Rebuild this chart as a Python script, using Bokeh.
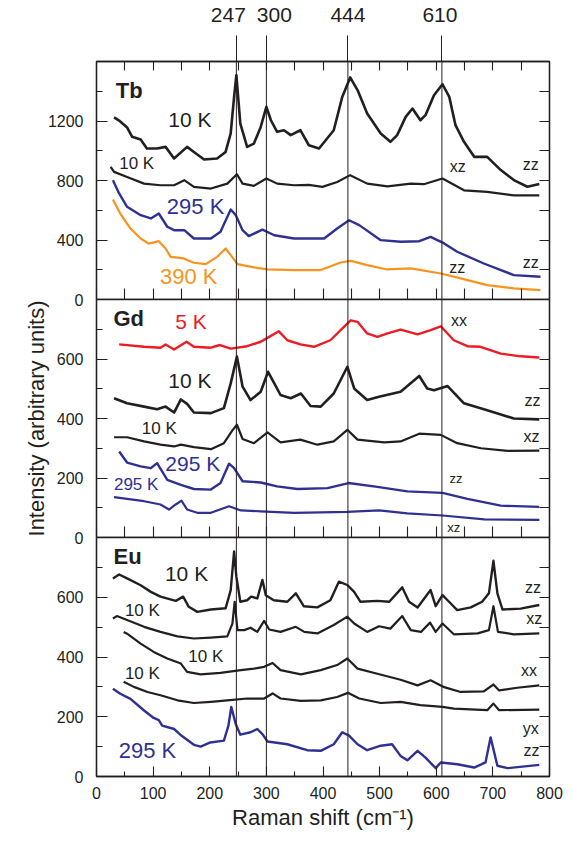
from bokeh.core.properties import value
from bokeh.embed import file_html
from bokeh.layouts import column
from bokeh.models import ColumnDataSource, FixedTicker, LinearAxis, Range1d, Span, Title
from bokeh.plotting import figure
from bokeh.resources import INLINE

# ---------------------------------------------------------------- data
# Raman shifts marked by vertical lines through all panels (cm^-1)
markers = [247, 300, 444, 610]

# Tb panel
tb_10k_zz_x = [31, 40, 54, 63, 78, 89, 107, 122, 137, 160, 172, 190, 213, 228, 237, 243, 247, 254, 266, 278,
               290, 300, 308, 319, 331, 343, 360, 375, 393, 419, 434, 448, 461, 478, 502, 519, 531, 546, 558,
               572, 581, 596, 611, 623, 634, 649, 667, 690, 714, 737, 761, 782]
tb_10k_zz_y = [1224, 1203, 1157, 1094, 1076, 1015, 1015, 1026, 948, 1026, 992, 941, 948, 992, 1117, 1362, 1508,
               1183, 1026, 1048, 1160, 1295, 1205, 1127, 1138, 1105, 1138, 1037, 1015, 1138, 1362, 1493, 1408,
               1251, 1116, 1060, 1105, 1228, 1284, 1205, 1239, 1373, 1447, 1362, 1172, 1060, 959, 959, 870, 803,
               758, 776]

tb_10k_xz_x = [25, 31, 54, 84, 113, 137, 155, 172, 202, 231, 248, 258, 278, 300, 319, 349, 375, 399, 425, 448,
               478, 514, 555, 578, 611, 649, 690, 737, 782]
tb_10k_xz_y = [892, 858, 824, 779, 768, 768, 802, 757, 746, 779, 842, 779, 764, 813, 779, 768, 770, 757, 790, 836,
               779, 761, 779, 775, 813, 734, 723, 700, 700]

tb_295k_x = [29, 40, 54, 78, 96, 110, 125, 137, 155, 172, 202, 219, 237, 246, 258, 269, 293, 314, 349, 402, 425,
             446, 464, 502, 537, 570, 590, 614, 637, 684, 737, 784]
tb_295k_y = [802, 713, 623, 567, 545, 578, 489, 466, 466, 410, 410, 455, 605, 567, 466, 426, 470, 432, 410, 410,
             477, 533, 500, 399, 388, 392, 421, 377, 321, 242, 164, 153]

tb_390k_x = [29, 42, 60, 78, 92, 110, 122, 131, 154, 172, 193, 213, 228, 237, 249, 278, 302, 349, 396, 431, 449,
             478, 513, 555, 608, 643, 690, 737, 784]
tb_390k_y = [672, 578, 477, 410, 376, 392, 343, 287, 276, 247, 238, 287, 343, 298, 238, 216, 202, 198, 198, 249,
             260, 231, 202, 209, 175, 142, 97, 75, 63]

# Gd panel
gd_5k_xx_x = [40, 84, 113, 122, 137, 159, 172, 202, 218, 237, 266, 290, 302, 322, 337, 360, 384, 413, 437, 449,
              461, 478, 496, 514, 537, 567, 590, 608, 631, 655, 678, 714, 749, 782]
gd_5k_xx_y = [649, 641, 638, 649, 632, 658, 641, 638, 647, 635, 643, 658, 671, 693, 663, 649, 641, 663, 708, 730,
              725, 686, 674, 686, 699, 683, 697, 710, 663, 643, 641, 618, 609, 605]

gd_10k_zz_x = [31, 54, 84, 107, 122, 137, 149, 160, 172, 202, 225, 237, 248, 258, 272, 290, 303, 314, 325, 343,
               361, 378, 396, 419, 443, 455, 478, 499, 537, 570, 584, 596, 620, 649, 690, 737, 782]
gd_10k_zz_y = [468, 451, 440, 431, 440, 420, 464, 449, 420, 418, 435, 518, 608, 507, 462, 490, 557, 518, 479, 468,
               484, 442, 440, 484, 574, 501, 462, 473, 490, 543, 501, 495, 509, 451, 428, 400, 397]

gd_10k_xz_x = [31, 54, 84, 113, 137, 149, 172, 202, 225, 240, 248, 258, 278, 302, 325, 360, 390, 419, 443, 461,
               508, 537, 570, 608, 637, 679, 726, 782]
gd_10k_xz_y = [337, 337, 323, 312, 306, 312, 304, 297, 317, 360, 379, 331, 317, 353, 320, 329, 312, 323, 362, 329,
               320, 323, 349, 345, 317, 300, 291, 292]

gd_295k_zz_x = [40, 54, 78, 96, 107, 125, 149, 172, 202, 219, 234, 243, 258, 290, 319, 355, 408, 445, 496, 549,
                611, 655, 714, 782]
gd_295k_zz_y = [289, 252, 239, 233, 250, 194, 177, 163, 161, 183, 248, 233, 189, 185, 172, 163, 166, 183, 170, 155,
                150, 130, 107, 103]

gd_295k_xz_x = [31, 54, 84, 113, 128, 140, 150, 160, 178, 202, 234, 255, 290, 349, 443, 499, 549, 611, 685, 782]
gd_295k_xz_y = [136, 130, 122, 111, 94, 111, 124, 94, 83, 83, 105, 91, 88, 83, 86, 91, 81, 74, 61, 59]

# Eu panel
eu_10k_zz_x = [29, 40, 54, 78, 96, 113, 140, 153, 163, 178, 202, 228, 237, 243, 247, 254, 266, 273, 284, 293,
               299, 313, 337, 352, 366, 390, 413, 428, 443, 455, 466, 496, 517, 540, 552, 567, 590, 599, 611, 620,
               637, 661, 681, 693, 701, 708, 717, 749, 782]
eu_10k_zz_y = [663, 676, 663, 640, 618, 602, 588, 602, 568, 551, 559, 563, 624, 753, 669, 585, 590, 602, 596, 658,
               607, 590, 585, 613, 570, 566, 590, 652, 641, 618, 585, 588, 585, 633, 585, 566, 624, 570, 607, 590,
               557, 566, 585, 613, 722, 613, 559, 562, 574]

eu_10k_xz_x = [29, 36, 54, 84, 113, 143, 172, 202, 231, 240, 244, 249, 261, 272, 284, 296, 305, 325, 352, 367,
               390, 419, 443, 455, 478, 499, 519, 540, 555, 573, 589, 599, 611, 631, 673, 693, 701, 709, 737, 782]
eu_10k_xz_y = [529, 537, 524, 501, 484, 469, 462, 465, 469, 512, 585, 490, 490, 498, 484, 521, 492, 484, 501, 484,
               479, 507, 535, 512, 484, 503, 495, 537, 490, 484, 515, 484, 512, 476, 479, 490, 570, 484, 476, 479]

eu_10k_xx_x = [48, 54, 78, 101, 125, 149, 160, 184, 219, 255, 278, 296, 311, 325, 361, 396, 425, 443, 461, 496,
               537, 567, 590, 614, 643, 684, 701, 711, 743, 782]
eu_10k_xx_y = [484, 478, 445, 417, 395, 378, 350, 342, 347, 356, 361, 367, 380, 356, 342, 356, 373, 395, 361, 344,
               324, 305, 322, 299, 283, 285, 308, 288, 297, 305]

eu_10k_yx_x = [48, 66, 90, 113, 143, 172, 202, 231, 266, 296, 311, 325, 361, 396, 425, 444, 464, 502, 537, 572,
               611, 631, 690, 701, 711, 782]
eu_10k_yx_y = [317, 300, 283, 272, 255, 246, 250, 255, 261, 261, 278, 261, 253, 255, 266, 280, 261, 246, 250, 239,
               233, 227, 222, 244, 222, 224]

eu_295k_zz_x = [29, 42, 60, 84, 101, 110, 116, 137, 148, 172, 184, 201, 225, 233, 238, 246, 254, 272, 284, 293,
                302, 337, 372, 396, 419, 434, 446, 461, 478, 502, 522, 537, 549, 567, 581, 599, 608, 637, 667, 687,
                696, 708, 726, 782]
eu_295k_zz_y = [294, 277, 260, 221, 196, 189, 170, 159, 140, 106, 100, 114, 120, 170, 233, 175, 140, 148, 159, 142,
                117, 108, 88, 86, 108, 148, 137, 108, 88, 103, 108, 69, 54, 86, 63, 28, 47, 41, 30, 47, 131, 36,
                28, 39]

x_tick_labels = ["0", "100", "200", "300", "400", "500", "600", "700", "800"]

# ---------------------------------------------------------------- style
FONT = "Liberation Sans"
INK = "#231f20"
BLUE = "#2e3192"
ORANGE = "#f7941d"
RED = "#ed1c24"

W = 572
LEFT, RIGHT = 96, 23
OVERLAP = 10          # room below a panel for its half-hidden "0" label
x_range = Range1d(0, 800)


def styled_axis(ax, major, minor, major_in, minor_in, labels=False, standoff=0):
    ax.ticker = FixedTicker(ticks=major, minor_ticks=minor)
    ax.major_tick_in = major_in
    ax.major_tick_out = 0
    ax.minor_tick_in = minor_in
    ax.minor_tick_out = 0
    ax.axis_line_color = INK
    ax.axis_line_width = 1.3
    ax.major_tick_line_color = INK
    ax.minor_tick_line_color = INK
    ax.major_tick_line_width = 1.1
    ax.minor_tick_line_width = 1.1
    ax.major_label_text_font = FONT
    ax.major_label_text_color = INK
    ax.major_label_standoff = standoff
    if labels:
        ax.major_label_text_font_size = "16px"
    else:
        ax.major_label_text_font_size = "0px"
        ax.major_label_overrides = {t: "" for t in major}
    return ax


def panel(height, y_max, left_major, left_minor, right_ticks, top=0, bottom=0, margin=0):
    p = figure(width=W, height=height, x_range=x_range, y_range=Range1d(0, y_max),
               output_backend="svg", toolbar_location=None,
               min_border_left=LEFT, min_border_right=RIGHT,
               min_border_top=top, min_border_bottom=bottom,
               margin=(margin, 0, 0, 0))
    p.xgrid.visible = False
    p.ygrid.visible = False
    p.outline_line_color = INK
    p.outline_line_width = 1.3
    p.background_fill_color = "white"
    p.border_fill_color = None
    styled_axis(p.yaxis[0], left_major, left_minor, 11, 6, labels=True, standoff=13)
    p.add_layout(styled_axis(LinearAxis(), right_ticks, [], 10, 0), "right")
    for m in markers:
        p.add_layout(Span(location=m, dimension="height", line_color=INK, line_width=1))
    return p


def tags(p, text, xs, ys, colors, sizes):
    src = ColumnDataSource(dict(x=xs, y=ys, text=text, color=colors, size=sizes))
    p.text(x="x", y="y", text="text", text_color="color", text_font_size="size",
           text_font=value(FONT), text_align="center", text_baseline="middle", source=src)


def element(p, name, x, y):
    p.text(x=[x], y=[y], text=[name], text_color=INK, text_font_size="22px",
           text_font=value(FONT), text_font_style="bold", text_align="left", text_baseline="middle")


every50 = list(range(0, 801, 50))

# ---------------------------------------------------------------- header with marker values
head = figure(width=W, height=35, x_range=x_range, y_range=Range1d(0, 1),
              output_backend="svg", toolbar_location=None,
              x_axis_type=None, y_axis_type=None,
              min_border_left=LEFT, min_border_right=RIGHT, min_border_top=0, min_border_bottom=0)
head.outline_line_color = None
head.xgrid.visible = False
head.ygrid.visible = False
head.text(x=markers, y=[0.6] * len(markers), text=[str(m) for m in markers],
          x_offset=[-8, 8, 0, -2], text_color=INK, text_font_size="21px",
          text_font=value(FONT), text_align="center", text_baseline="middle")

# ---------------------------------------------------------------- Tb
tb = panel(26 + 238 + OVERLAP, 1600, [0, 400, 800, 1200], [200, 600, 1000, 1400],
           list(range(0, 1401, 200)), top=26, bottom=OVERLAP)
styled_axis(tb.xaxis[0], every50, [], 11, 0)
top_ax = LinearAxis()
styled_axis(top_ax, markers, list(range(50, 800, 50)), 0, 9)
top_ax.major_tick_out = 26
top_ax.major_tick_line_width = 1
tb.add_layout(top_ax, "above")

tb.line(tb_10k_zz_x, tb_10k_zz_y, line_color=INK, line_width=2.6, line_join="round")
tb.line(tb_10k_xz_x, tb_10k_xz_y, line_color=INK, line_width=2.2, line_join="round")
tb.line(tb_295k_x, tb_295k_y, line_color=BLUE, line_width=2.4, line_join="round")
tb.line(tb_390k_x, tb_390k_y, line_color=ORANGE, line_width=2.2, line_join="round")
element(tb, "Tb", 34, 1408)
tags(tb, ["10 K", "10 K", "295 K", "390 K", "xz", "zz", "zz", "zz"],
     [165, 71, 175, 163, 638, 767, 637, 767],
     [1212, 913, 623, 152, 892, 908, 215, 246],
     [INK, INK, BLUE, ORANGE, INK, INK, INK, INK],
     ["21px", "17px", "22px", "22px", "16px", "16px", "16px", "16px"])

# ---------------------------------------------------------------- Gd
gd = panel(238 + OVERLAP, 800, [0, 200, 400, 600], [100, 300, 500, 700], list(range(0, 701, 100)),
           bottom=OVERLAP, margin=-OVERLAP)
styled_axis(gd.xaxis[0], every50, [], 11, 0)
gd.line(gd_5k_xx_x, gd_5k_xx_y, line_color=RED, line_width=2.4, line_join="round")
gd.line(gd_10k_zz_x, gd_10k_zz_y, line_color=INK, line_width=2.6, line_join="round")
gd.line(gd_10k_xz_x, gd_10k_xz_y, line_color=INK, line_width=2.2, line_join="round")
gd.line(gd_295k_zz_x, gd_295k_zz_y, line_color=BLUE, line_width=2.4, line_join="round")
gd.line(gd_295k_xz_x, gd_295k_xz_y, line_color=BLUE, line_width=2.2, line_join="round")
element(gd, "Gd", 30, 736)
tags(gd, ["5 K", "10 K", "10 K", "295 K", "295 K", "xx", "zz", "xz", "zz", "xz"],
     [167, 165, 111, 170, 70, 640, 770, 768, 635, 631],
     [725, 527, 367, 250, 178, 730, 462, 339, 200, 32],
     [RED, INK, INK, BLUE, BLUE, INK, INK, INK, INK, INK],
     ["21px", "21px", "17px", "21px", "17px", "16px", "16px", "16px", "13px", "13px"])
gd.add_layout(Title(text="Intensity (arbitrary units)", align="center", offset=21,
                    text_font=FONT, text_font_size="22px", text_font_style="normal",
                    text_color=INK), "left")

# ---------------------------------------------------------------- Eu
eu = panel(239 + 73, 800, [0, 200, 400, 600], [100, 300, 500, 700], list(range(0, 701, 100)),
           bottom=73, margin=-OVERLAP)
xax = styled_axis(eu.xaxis[0], list(range(0, 801, 100)), list(range(50, 800, 100)), 10, 5,
                  labels=True, standoff=10)
xax.major_label_overrides = {i * 100: t for i, t in enumerate(x_tick_labels)}
xax.axis_label = "Raman shift (cm\u207b\u00b9)"
xax.axis_label_text_font = FONT
xax.axis_label_text_font_size = "22px"
xax.axis_label_text_font_style = "normal"
xax.axis_label_text_color = INK
xax.axis_label_standoff = 3
eu.line(eu_10k_zz_x, eu_10k_zz_y, line_color=INK, line_width=2.4, line_join="round")
eu.line(eu_10k_xz_x, eu_10k_xz_y, line_color=INK, line_width=2.2, line_join="round")
eu.line(eu_10k_xx_x, eu_10k_xx_y, line_color=INK, line_width=2.2, line_join="round")
eu.line(eu_10k_yx_x, eu_10k_yx_y, line_color=INK, line_width=2.2, line_join="round")
eu.line(eu_295k_zz_x, eu_295k_zz_y, line_color=BLUE, line_width=2.4, line_join="round")
element(eu, "Eu", 30, 736)
tags(eu, ["10 K", "10 K", "10 K", "10 K", "295 K", "zz", "xz", "xx", "yx", "zz"],
     [159, 81, 193, 81, 90, 771, 773, 764, 767, 768],
     [680, 554, 403, 345, 87, 633, 529, 356, 160, 87],
     [INK, INK, INK, INK, BLUE, INK, INK, INK, INK, INK],
     ["21px", "17px", "17px", "17px", "22px", "16px", "16px", "16px", "16px", "16px"])

layout = column(head, tb, gd, eu, spacing=0)
open("out.html", "w").write(file_html(layout, INLINE))
